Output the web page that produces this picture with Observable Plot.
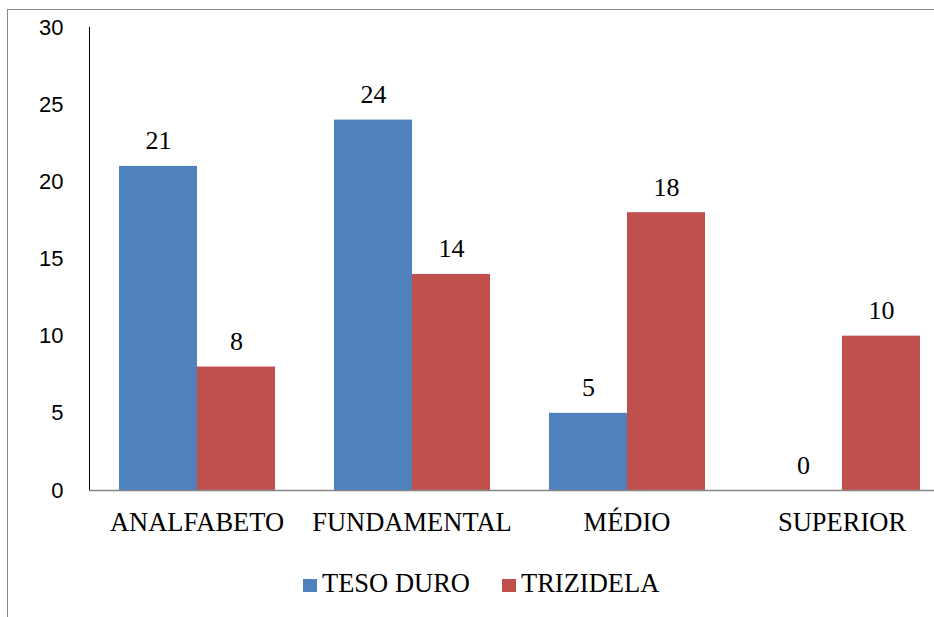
<!DOCTYPE html>
<html>
<head>
<meta charset="utf-8">
<script src="https://cdn.jsdelivr.net/npm/d3@7"></script>
<script src="https://cdn.jsdelivr.net/npm/@observablehq/plot@0.6"></script>
<style>
  html, body { margin: 0; padding: 0; background: #fff; }
  body { width: 934px; height: 617px; overflow: hidden; position: relative; }
  #frame { position: absolute; left: 7px; top: 9px; width: 1000px; height: 700px; border: 1px solid #868686; box-sizing: border-box; }
  #chart { position: absolute; left: 0; top: 0; width: 960px; }
  #chart svg { max-width: none !important; }
  .leg { position: absolute; font-family: "Liberation Serif", serif; font-size: 26.5px; line-height: 26.5px; color: #000; white-space: nowrap; }
  .sw { position: absolute; width: 14px; height: 13px; }
</style>
</head>
<body>
<div id="frame"></div>
<div id="chart"></div>
<div class="sw" style="left:303px; top:579px; background:#4F81BD"></div>
<div class="leg" style="left:322px; top:570px">TESO DURO</div>
<div class="sw" style="left:502px; top:579px; background:#C0504D"></div>
<div class="leg" style="left:521px; top:570px">TRIZIDELA</div>
<script>
const categories = ["ANALFABETO", "FUNDAMENTAL", "MÉDIO", "SUPERIOR"];
const series = ["TESO DURO", "TRIZIDELA"];
const tesoDuro = [21, 24, 5, 0];
const trizidela = [8, 14, 18, 10];
const colors = ["#4F81BD", "#C0504D"];
const yTicks = [0, 5, 10, 15, 20, 25, 30];

const data = [];
categories.forEach((c, i) => {
  data.push({category: c, series: series[0], value: tesoDuro[i]});
  data.push({category: c, series: series[1], value: trizidela[i]});
});

const chart = Plot.plot({
  width: 960,
  height: 560,
  marginTop: 27,
  marginBottom: 70,
  marginLeft: 89,
  marginRight: 11,
  style: {background: "transparent", overflow: "visible", fontFamily: "Liberation Serif", maxWidth: "none"},
  fx: {domain: categories, padding: 0, label: null, tickSize: 0, tickPadding: 22},
  x: {domain: series, paddingInner: 0, paddingOuter: 0.378, axis: null},
  y: {domain: [0, 30], ticks: yTicks, tickSize: 0, tickPadding: 26, label: null, line: true},
  color: {domain: series, range: colors},
  marks: [
    Plot.barY(data, {fx: "category", x: "series", y: "value", fill: "series", inset: 0}),
    Plot.ruleY([0], {stroke: "#868686", strokeWidth: 1.5}),
    Plot.text(data, {fx: "category", x: "series", y: "value", text: d => String(d.value),
      lineAnchor: "bottom", dy: -17, fontSize: 26, fontFamily: "Liberation Serif", fill: "#000"})
  ]
});
document.getElementById("chart").appendChild(chart);

// style axes
const svg = d3.select(chart);
svg.selectAll("[aria-label='y-axis tick label']")
  .attr("font-family", "Liberation Sans").attr("font-size", 22).attr("fill", "#000")
  .style("font-family", "Liberation Sans").style("font-size", "22px");
svg.selectAll("[aria-label='fx-axis tick label']")
  .attr("font-family", "Liberation Serif").attr("font-size", 26.5).attr("fill", "#000")
  .style("font-family", "Liberation Serif").style("font-size", "26.5px");
svg.selectAll("[aria-label='y-axis line'], [aria-label='y-axis line'] *")
  .attr("stroke", "#868686").attr("stroke-width", 1.5).attr("stroke-opacity", 1);
</script>
</body>
</html>
